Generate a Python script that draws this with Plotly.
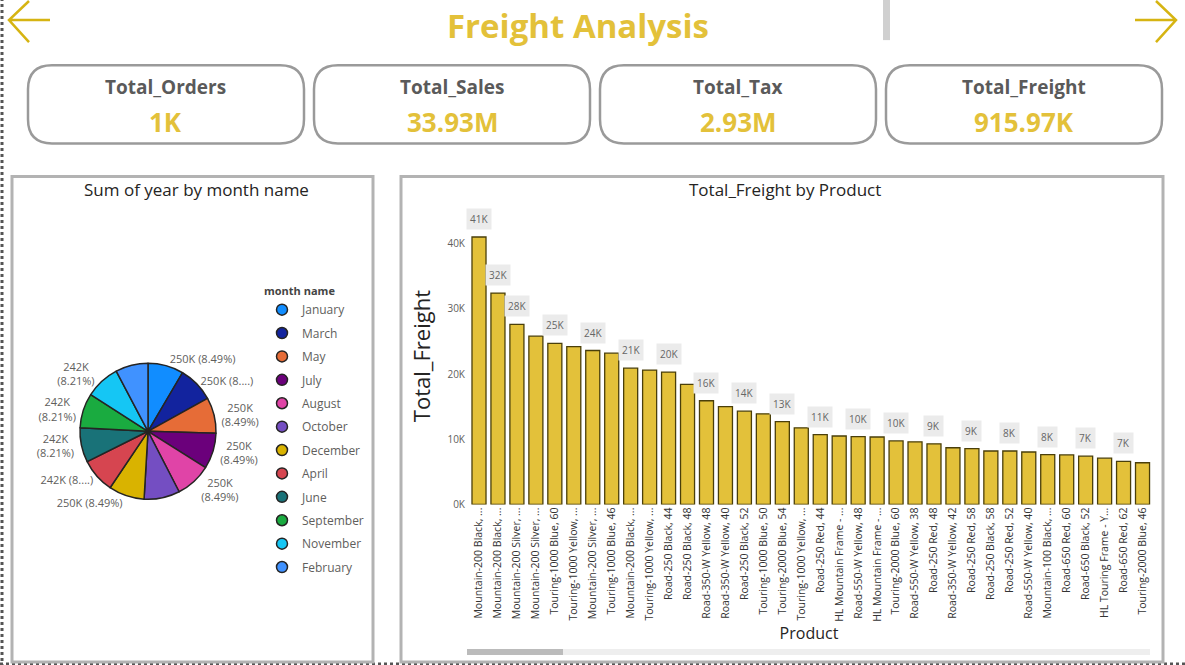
import plotly.graph_objects as go

W, H = 1185, 665
FIG_H = 673  # the capture squeezes the page a little vertically

# ---- data ----
kpi_names = ["Total_Orders", "Total_Sales", "Total_Tax", "Total_Freight"]
kpi_values = ["1K", "33.93M", "2.93M", "915.97K"]

months = ["January", "March", "May", "July", "August", "October", "December",
          "April", "June", "September", "November", "February"]
year_sum = [250480, 250480, 250480, 250480, 250480, 250480, 250480,
            242400, 242400, 242400, 242400, 228260]
pie_labels = ["250K (8.49%)", "250K (8....)", "250K<br>(8.49%)", "250K<br>(8.49%)", "250K<br>(8.49%)", "",
              "250K (8.49%)", "242K (8....)", "242K<br>(8.21%)", "242K<br>(8.21%)", "242K<br>(8.21%)", ""]
month_colors = ["#118DFF", "#12239E", "#E66C37", "#6B007B", "#E044A7", "#744EC2",
                "#D9B300", "#D64550", "#197278", "#1AAB40", "#15C6F4", "#4092FF"]

products = ["Mountain-200 Black, 38", "Mountain-200 Black, 42", "Mountain-200 Silver, 38",
            "Mountain-200 Silver, 42", "Touring-1000 Blue, 60", "Touring-1000 Yellow, 60",
            "Mountain-200 Silver, 46", "Touring-1000 Blue, 46", "Mountain-200 Black, 46",
            "Touring-1000 Yellow, 46", "Road-250 Black, 44", "Road-250 Black, 48",
            "Road-350-W Yellow, 48", "Road-350-W Yellow, 40", "Road-250 Black, 52",
            "Touring-1000 Blue, 50", "Touring-2000 Blue, 54", "Touring-1000 Yellow, 50",
            "Road-250 Red, 44", "HL Mountain Frame - Black, 38", "Road-550-W Yellow, 48",
            "HL Mountain Frame - Silver, 42", "Touring-2000 Blue, 60", "Road-550-W Yellow, 38",
            "Road-250 Red, 48", "Road-350-W Yellow, 42", "Road-250 Red, 58",
            "Road-250 Black, 58", "Road-250 Red, 52", "Road-550-W Yellow, 40",
            "Mountain-100 Black, 38", "Road-650 Red, 60", "Road-650 Black, 52",
            "HL Touring Frame - Yellow, 46", "Road-650 Red, 62", "Touring-2000 Blue, 46"]
product_ticks = ["Mountain-200 Black, ...", "Mountain-200 Black, ...", "Mountain-200 Silver, ...",
                 "Mountain-200 Silver, ...", "Touring-1000 Blue, 60", "Touring-1000 Yellow, ...",
                 "Mountain-200 Silver, ...", "Touring-1000 Blue, 46", "Mountain-200 Black, ...",
                 "Touring-1000 Yellow, ...", "Road-250 Black, 44", "Road-250 Black, 48",
                 "Road-350-W Yellow, 48", "Road-350-W Yellow, 40", "Road-250 Black, 52",
                 "Touring-1000 Blue, 50", "Touring-2000 Blue, 54", "Touring-1000 Yellow, ...",
                 "Road-250 Red, 44", "HL Mountain Frame - ...", "Road-550-W Yellow, 48",
                 "HL Mountain Frame - ...", "Touring-2000 Blue, 60", "Road-550-W Yellow, 38",
                 "Road-250 Red, 48", "Road-350-W Yellow, 42", "Road-250 Red, 58",
                 "Road-250 Black, 58", "Road-250 Red, 52", "Road-550-W Yellow, 40",
                 "Mountain-100 Black, ...", "Road-650 Red, 60", "Road-650 Black, 52",
                 "HL Touring Frame - Y...", "Road-650 Red, 62", "Touring-2000 Blue, 46"]
freight = [41000, 32400, 27600, 25800, 24700, 24200, 23600, 23200, 20900, 20600,
           20300, 18400, 15900, 15000, 14300, 13900, 12700, 11750, 10700, 10500,
           10400, 10350, 9750, 9600, 9300, 8700, 8550, 8200, 8200, 8050,
           7650, 7600, 7400, 7100, 6600, 6400]
labelled_bars = [0, 1, 2] + list(range(4, 36, 2))
y_ticks = [0, 10000, 20000, 30000, 40000]
y_tick_labels = ["0K", "10K", "20K", "30K", "40K"]

GOLD = "#E3C13A"
FONT = "Open Sans"


def px(x):
    return x / W


def py(y):
    return 1 - y / H


def round_rect(x0, y0, x1, y1, r):
    # rounded rectangle path in paper coords (pixel inputs)
    rx, ry = r / W, r / H
    a, b, c, d = px(x0), py(y1), px(x1), py(y0)
    return (f"M {a+rx},{b} L {c-rx},{b} Q {c},{b} {c},{b+ry} L {c},{d-ry} Q {c},{d} {c-rx},{d} "
            f"L {a+rx},{d} Q {a},{d} {a},{d-ry} L {a},{b+ry} Q {a},{b} {a+rx},{b} Z")


def text_at(fig, x, y, text, size, color):
    fig.add_annotation(x=px(x), y=py(y), xref="paper", yref="paper", text=text,
                       xanchor="center", yanchor="middle", showarrow=False,
                       font=dict(size=size, color=color, family=FONT))


fig = go.Figure()

fig.add_trace(go.Bar(
    x=products, y=freight, showlegend=False,
    marker=dict(color=GOLD, line=dict(color="#4A3F0A", width=1.3)),
))

fig.add_trace(go.Pie(
    labels=months, values=year_sum, text=pie_labels, textinfo="text",
    textposition="outside", sort=False, direction="clockwise", rotation=0,
    marker=dict(colors=month_colors, line=dict(color="#252423", width=1.5)),
    textfont=dict(size=11, color="#605E5C", family=FONT),
    domain=dict(x=[px(80), px(216)], y=[py(498), py(362)]),
    showlegend=False,
))

# legend entries (circle markers like the report)
for m, c in zip(months, month_colors):
    fig.add_trace(go.Scatter(
        x=[None], y=[None], mode="markers", name=m, legendgroup=m,
        marker=dict(symbol="circle", size=11, color=c, line=dict(color="#252423", width=1.5)),
    ))

for i in labelled_bars:
    fig.add_annotation(
        x=products[i], y=freight[i], xref="x", yref="y",
        text=f"{freight[i] / 1000:.0f}K", showarrow=False, yanchor="bottom", yshift=7,
        bgcolor="#EBEBEB", borderpad=3, font=dict(size=10, color="#666666", family=FONT),
    )

fig.update_xaxes(
    type="category", domain=[px(466), px(1152)], anchor="y",
    tickmode="array", tickvals=products, ticktext=product_ticks, tickangle=-90,
    tickfont=dict(size=10.5, color="#333333", family=FONT),
    title=dict(text="Product", font=dict(size=16, color="#252423", family=FONT), standoff=6),
    showgrid=False, showline=False, zeroline=False,
)
fig.update_yaxes(
    domain=[py(503), py(207)], anchor="x", range=[0, 45500],
    tickmode="array", tickvals=y_ticks, ticktext=y_tick_labels,
    tickfont=dict(size=10, color="#605E5C", family=FONT),
    title=dict(text="Total_Freight", font=dict(size=22, color="#252423", family=FONT), standoff=10),
    showgrid=False, zeroline=False, showline=False,
)

shapes = []
# dotted canvas edges
shapes.append(dict(type="line", xref="paper", yref="paper", x0=px(2), x1=px(2), y0=0, y1=1,
                   line=dict(color="#555555", width=3, dash="dot")))
shapes.append(dict(type="line", xref="paper", yref="paper", x0=0, x1=1, y0=py(662), y1=py(662),
                   line=dict(color="#555555", width=3, dash="dot")))
# arrows
arrow = dict(color="#D6B412", width=2.5)
shapes.append(dict(type="path", xref="paper", yref="paper", line=arrow,
                   path=f"M {px(50)},{py(20)} L {px(9)},{py(20)} M {px(29)},{py(1)} L {px(9)},{py(20)} L {px(29)},{py(42)}"))
shapes.append(dict(type="path", xref="paper", yref="paper", line=arrow,
                   path=f"M {px(1135)},{py(20)} L {px(1176)},{py(20)} M {px(1156)},{py(1)} L {px(1176)},{py(20)} L {px(1156)},{py(42)}"))
# scroll marker near title
shapes.append(dict(type="rect", xref="paper", yref="paper", x0=px(883), x1=px(890), y0=py(40), y1=py(0),
                   fillcolor="#D0D0D0", line=dict(width=0)))

# KPI cards
card_x = [28, 314, 600, 886]
for x0, name, val in zip(card_x, kpi_names, kpi_values):
    shapes.append(dict(type="path", xref="paper", yref="paper", path=round_rect(x0, 65, x0 + 276, 143, 24),
                       line=dict(color="#9A9A9A", width=2.5)))
    text_at(fig, x0 + 138, 87, f"<b>{name}</b>", 19, "#5A5A5A")
    text_at(fig, x0 + 138, 122, f"<b>{val}</b>", 26, GOLD)

# panels
for x0, x1 in [(12, 373), (401, 1163)]:
    shapes.append(dict(type="rect", xref="paper", yref="paper", x0=px(x0), x1=px(x1), y0=py(660), y1=py(176),
                       line=dict(color="#B3B3B3", width=3)))
# horizontal scrollbar
shapes.append(dict(type="rect", xref="paper", yref="paper", x0=px(563), x1=px(1150), y0=py(653), y1=py(647),
                   fillcolor="#EEEEEE", line=dict(width=0)))
shapes.append(dict(type="rect", xref="paper", yref="paper", x0=px(467), x1=px(563), y0=py(653), y1=py(647),
                   fillcolor="#BBBBBB", line=dict(width=0)))

text_at(fig, 578, 25, "<b>Freight Analysis</b>", 33, GOLD)
text_at(fig, 196, 189, "Sum of year by month name", 17, "#252423")
text_at(fig, 785, 189, "Total_Freight by Product", 17, "#252423")

fig.update_layout(
    width=W, height=FIG_H, margin=dict(l=0, r=0, t=0, b=0),
    paper_bgcolor="white", plot_bgcolor="white",
    bargap=0.26, shapes=shapes,
    legend=dict(
        x=px(262), y=py(280), xanchor="left", yanchor="top",
        traceorder="grouped", tracegroupgap=4.4,
        title=dict(text="<b>month name</b>", font=dict(size=11, color="#444444", family=FONT)),
        font=dict(size=12, color="#605E5C", family=FONT),
        itemwidth=30, bgcolor="rgba(0,0,0,0)",
    ),
    font=dict(family=FONT),
)

page_fix = ("document.body.style.margin='0';"
            "var gd=document.querySelector('.plotly-graph-div');"
            "gd.style.position='fixed';gd.style.top='0';gd.style.left='0';")
fig.write_html("out.html", config={"displayModeBar": False}, post_script=page_fix)
